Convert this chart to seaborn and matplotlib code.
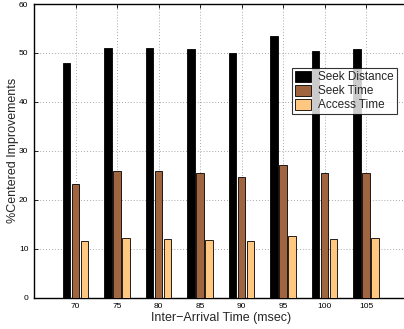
import matplotlib
matplotlib.use("Agg")
import matplotlib.pyplot as plt
import seaborn as sns
import pandas as pd

# Inter-arrival times (msec) and percentage improvements per metric
arrival_times = ["70", "75", "80", "85", "90", "95", "100", "105"]
seek_distance = [47.9, 51.0, 51.0, 50.8, 49.9, 53.4, 50.4, 50.8]
seek_time = [23.3, 25.9, 25.9, 25.4, 24.6, 27.2, 25.4, 25.4]
access_time = [11.6, 12.1, 12.0, 11.8, 11.5, 12.7, 12.0, 12.1]
series_names = ["Seek Distance", "Seek Time", "Access Time"]

# copper colormap sampled at 0, 0.5, 1
colors = ["#000000", "#A0643F", "#FFC77F"]

df = pd.DataFrame({
    "time": arrival_times * 3,
    "value": seek_distance + seek_time + access_time,
    "metric": [s for s in series_names for _ in arrival_times],
})

sns.set_style("white")
plt.rcParams["font.family"] = ["Liberation Sans", "DejaVu Sans"]

fig = plt.figure(figsize=(4.04, 3.29), dpi=100)
ax = fig.add_axes([34 / 404, 31.3 / 329, 373.7 / 404, 293.7 / 329])

sns.barplot(data=df, x="time", y="value", hue="metric", order=arrival_times,
            hue_order=series_names, palette=colors, saturation=1,
            width=0.65, gap=0.17, edgecolor="black", linewidth=0.6,
            ax=ax, legend=True, zorder=3)

ax.set_xlim(-1, 8)
ax.set_ylim(0, 60)
ax.set_yticks(range(0, 61, 10))
ax.grid(True, linestyle=(0, (1, 2.5)), color="#8a8a8a", linewidth=0.6, zorder=0)
ax.set_axisbelow(True)

ax.tick_params(axis="both", direction="in", length=3, width=0.6, labelsize=6,
               colors="black", bottom=True, left=True, top=True, right=True,
               pad=4)
for s in ax.spines.values():
    s.set_linewidth(1.0)
    s.set_color("black")

ax.set_xlabel("Inter\u2212Arrival Time (msec)", fontsize=9, labelpad=1)
ax.set_ylabel("%Centered Improvements", fontsize=9, labelpad=0)

leg = ax.legend(loc="upper left", bbox_to_anchor=(0.69, 0.782), fontsize=8.5,
                frameon=True, fancybox=False, edgecolor="black",
                handlelength=1.4, handleheight=1.0, handletextpad=0.6,
                borderpad=0.25, labelspacing=0.15, borderaxespad=0)
leg.get_frame().set_linewidth(0.8)

fig.savefig("out.png", dpi=100)
